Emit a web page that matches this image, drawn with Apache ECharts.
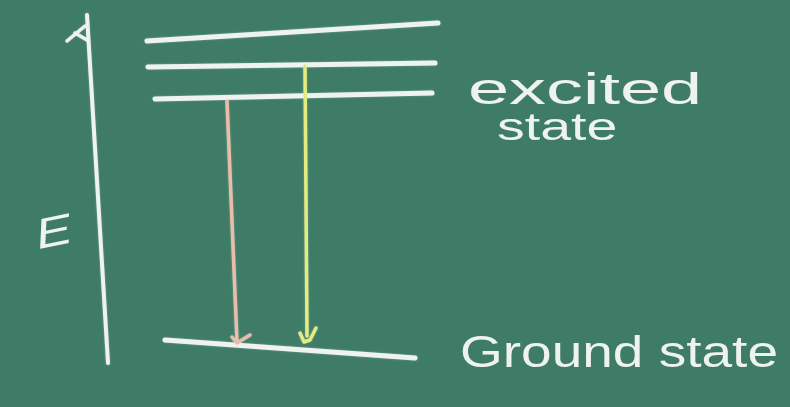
<!DOCTYPE html>
<html>
<head>
<meta charset="utf-8">
<script src="https://cdn.jsdelivr.net/npm/echarts@6/dist/echarts.min.js"></script>
<style>
html,body{margin:0;padding:0;background:#3f7c68;}
#board{width:790px;height:407px;}
</style>
</head>
<body>
<div id="board"></div>
<script>
var board = echarts.init(document.getElementById('board'));

// energy levels (hand drawn, so each end has its own position)
var levelNames = ['level3', 'level2', 'level1', 'ground'];
var levelStart = [[147, 41], [148, 67], [155, 99], [165, 340]];
var levelEnd = [[438, 23], [435, 63], [432, 93], [415, 358]];

// energy axis with its arrow head
var axisLine = [[87, 15], [108, 363]];
var axisHead = [[[67, 41], [85, 26]], [[75, 33], [87, 40]]];

// transitions: shaft + head strokes
var transNames = ['pink', 'yellow'];
var transColors = ['#ebbcaa', '#e3ec7e'];
var transShaft = [[[227, 101], [237, 342]], [[305, 66], [307, 336]]];
var transHead = [
    [[232, 337], [237, 343], [250, 335]],
    [[300, 333], [304, 342], [310, 340], [316, 328]]
];

var chalk = '#eef3ee';

function stroke(name, data, color, width){
    return {
        name: name,
        type: 'line',
        data: data,
        symbol: 'none',
        silent: true,
        animation: false,
        lineStyle: {
            color: color,
            width: width,
            cap: 'round',
            join: 'round',
            shadowBlur: 2,
            shadowColor: 'rgba(255,255,255,0.35)'
        }
    };
}

var series = [];
for (var i = 0; i < levelNames.length; i++) {
    series.push(stroke(levelNames[i], [levelStart[i], levelEnd[i]], chalk, 5));
}
series.push(stroke('axis', axisLine, chalk, 4));
for (var j = 0; j < axisHead.length; j++) {
    series.push(stroke('axisHead' + j, axisHead[j], chalk, 3.5));
}
for (var k = 0; k < transNames.length; k++) {
    series.push(stroke(transNames[k], transShaft[k], transColors[k], 3.5));
    series.push(stroke(transNames[k] + 'Head', transHead[k], transColors[k], 3.5));
}

var textStyle = {fill: chalk, fontFamily: 'Liberation Sans', fontWeight: 'normal'};

var option = {
    backgroundColor: '#3f7c68',
    grid: {left: 0, right: 0, top: 0, bottom: 0},
    xAxis: {type: 'value', min: 0, max: 790, show: false},
    yAxis: {type: 'value', min: 0, max: 407, inverse: true, show: false},
    series: series,
    graphic: [
        {type: 'text', x: 468, y: 114, scaleX: 1.68, style: Object.assign({text: 'excited', fontSize: 44, textVerticalAlign: 'bottom'}, textStyle)},
        {type: 'text', x: 497, y: 149, scaleX: 1.46, style: Object.assign({text: 'state', fontSize: 38, textVerticalAlign: 'bottom'}, textStyle)},
        {type: 'text', x: 460, y: 377, scaleX: 1.25, style: Object.assign({text: 'Ground state', fontSize: 44, textVerticalAlign: 'bottom'}, textStyle)},
        {type: 'text', x: 54, y: 234, rotation: 0.2, scaleX: 1.3, style: Object.assign({text: 'E', fontSize: 42, fontStyle: 'italic', textAlign: 'center', textVerticalAlign: 'middle'}, textStyle)}
    ]
};
board.setOption(option);
</script>
</body>
</html>
